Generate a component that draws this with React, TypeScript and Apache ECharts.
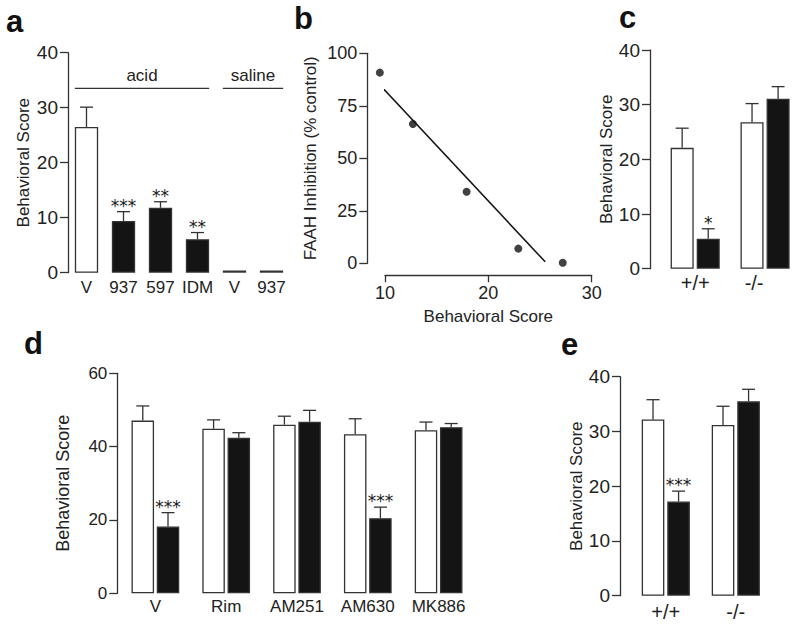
import React, { useEffect, useRef } from "react";
import * as echarts from "echarts";

// ---------- data ----------
// panel a
const aLabels = ["V", "937", "597", "IDM", "V", "937"];
const aMeans = [26.5, 9.4, 11.8, 6.1, 0.4, 0.4];
const aErr = [3.6, 1.7, 1.1, 1.2, 0, 0];
const aStars = ["", "***", "**", "**", "", ""];
const aWhite = [true, false, false, false, false, false];
const aBrackets = [
  { label: "acid", from: 0, to: 3, y: 33.5 },
  { label: "saline", from: 4, to: 5, y: 33.5 },
];
const aTicks = [0, 10, 20, 30, 40];

// panel b
const bScore = [9.5, 12.7, 17.9, 22.9, 27.2];
const bInhib = [90.8, 66.3, 34.1, 7.0, 0.3];
const bFit = [
  [9.5, 84.9],
  [25.5, 0.7],
];

// panel c
const cCats = ["+/+", "-/-"];
const cWhite = [22.1, 26.8];
const cWhiteErr = [3.6, 3.4];
const cBlack = [5.5, 31.1];
const cBlackErr = [1.8, 2.2];
const cBlackStars = ["*", ""];

// panel d
const dCats = ["V", "Rim", "AM251", "AM630", "MK886"];
const dWhite = [47.1, 44.9, 46.0, 43.4, 44.5];
const dWhiteErr = [4.0, 2.4, 2.3, 4.2, 2.2];
const dBlack = [18.2, 42.4, 46.8, 20.5, 45.3];
const dBlackErr = [3.8, 1.4, 3.1, 3.0, 1.0];
const dBlackStars = ["***", "", "", "***", ""];

// panel e
const eCats = ["+/+", "-/-"];
const eWhite = [32.2, 31.2];
const eWhiteErr = [3.6, 3.4];
const eBlack = [17.2, 35.5];
const eBlackErr = [1.9, 2.2];
const eBlackStars = ["***", ""];

const panelLetters = ["a", "b", "c", "d", "e"];

// ---------- style ----------
const FONT = '"Liberation Sans", Arial, Helvetica, sans-serif';
const AX = "#333";
const TXT = "#222";
const BLACK = "#141414";

function yAx(
  gridIndex: number,
  max: number,
  interval: number,
  name: string,
  nameGap: number,
  offset: number,
  labelSize: number,
  nameSize: number
) {
  return {
    type: "value",
    gridIndex,
    min: 0,
    max,
    interval,
    offset,
    name,
    nameLocation: "middle",
    nameGap,
    nameTextStyle: { fontSize: nameSize, color: TXT, fontFamily: FONT },
    axisLine: { show: true, lineStyle: { color: AX, width: 1.3 } },
    axisTick: { show: true, length: 8, lineStyle: { color: AX, width: 1.3 } },
    axisLabel: { fontSize: labelSize, color: TXT, fontFamily: FONT, margin: 10 },
    splitLine: { show: false },
  };
}

function xCat(gridIndex: number, data: string[], margin: number, size: number, extra: any = {}) {
  return {
    type: "category",
    gridIndex,
    data,
    axisLine: { show: false },
    axisTick: { show: false },
    axisLabel: { fontSize: size, color: TXT, fontFamily: FONT, margin, interval: 0, ...extra },
    splitLine: { show: false },
  };
}

function barSeries(idx: number, values: any[], white: boolean, barWidth: string, barGap?: string) {
  const s: any = {
    type: "bar",
    xAxisIndex: idx,
    yAxisIndex: idx,
    data: values,
    barWidth,
    itemStyle: { color: white ? "#fff" : BLACK, borderColor: AX, borderWidth: 1.3 },
    silent: true,
  };
  if (barGap) s.barGap = barGap;
  return s;
}

function errSeries(
  idx: number,
  means: number[],
  errs: number[],
  stars: string[],
  barFrac: number,
  gapFrac: number,
  side: number
) {
  return {
    type: "custom",
    xAxisIndex: idx,
    yAxisIndex: idx,
    z: 5,
    silent: true,
    data: means.map((m, i) => [i, m, errs[i]]),
    encode: { x: 0, y: 1 },
    renderItem: (params: any, api: any) => {
      const i = params.dataIndex;
      const band = api.size([1, 0])[0];
      const bw = band * barFrac;
      const off = side === 0 ? 0 : (side * (bw + bw * gapFrac)) / 2;
      const base = api.coord([api.value(0), api.value(1)]);
      const top = api.coord([api.value(0), api.value(1) + api.value(2)]);
      const x = base[0] + off;
      const children: any[] = [];
      const ls = { stroke: AX, lineWidth: 1.3 };
      if (api.value(2) > 0) {
        children.push({ type: "line", shape: { x1: x, y1: base[1], x2: x, y2: top[1] }, style: ls });
        children.push({ type: "line", shape: { x1: x - 6.5, y1: top[1], x2: x + 6.5, y2: top[1] }, style: ls });
      }
      if (stars[i]) {
        children.push({
          type: "text",
          x,
          y: top[1] - 6,
          style: {
            text: stars[i],
            fontSize: 17,
            fontFamily: '"DejaVu Sans", sans-serif',
            fill: "#1a1a1a",
            align: "center",
            verticalAlign: "middle",
          },
        });
      }
      return { type: "group", children };
    },
  };
}

export default function App() {
  const ref = useRef<HTMLDivElement>(null);
  useEffect(() => {
    if (!ref.current) return;
    const chart = echarts.init(ref.current, undefined, { renderer: "svg" });

    const letterPos = [
      [6, 5.5],
      [294, 2.5],
      [619, 1.5],
      [24, 327.5],
      [561, 328.5],
    ];

    const option: any = {
      animation: false,
      backgroundColor: "#fff",
      textStyle: { fontFamily: FONT },
      grid: [
        { left: 68, top: 52.7, width: 222, height: 220 },
        { left: 385, top: 53.3, width: 206.7, height: 210 },
        { left: 660.25, top: 50, width: 140.5, height: 218.7 },
        { left: 120, top: 373.3, width: 354, height: 220 },
        { left: 630.8, top: 376.7, width: 140, height: 219 },
      ],
      xAxis: [
        {
          ...xCat(0, aLabels.map((_, i) => String(i)), 6, 17),
          axisLabel: {
            fontSize: 17,
            color: TXT,
            fontFamily: FONT,
            margin: 6,
            interval: 0,
            formatter: (v: string) => aLabels[Number(v)],
          },
        },
        {
          type: "value",
          gridIndex: 1,
          min: 10,
          max: 30,
          interval: 10,
          offset: 12,
          name: "Behavioral Score",
          nameLocation: "middle",
          nameGap: 33,
          nameTextStyle: { fontSize: 17, color: TXT, fontFamily: FONT },
          axisLine: { show: true, onZero: false, lineStyle: { color: AX, width: 1.3 } },
          axisTick: { show: true, length: 7, lineStyle: { color: AX, width: 1.3 } },
          axisLabel: { fontSize: 18, color: TXT, fontFamily: FONT, margin: 9 },
          splitLine: { show: false },
        },
        xCat(2, cCats, 4, 20, {
          formatter: (v: string) => (v === "-/-" ? "{s|-/-}" : v),
          rich: { s: { fontSize: 20, color: TXT, fontFamily: FONT, padding: [0, 22, 0, 0] } },
        }),
        xCat(3, dCats, 5, 17),
        xCat(4, eCats, 6, 20),
      ],
      yAxis: [
        yAx(0, aTicks[aTicks.length - 1], 10, "Behavioral Score", 36, 0, 19, 17),
        yAx(1, 100, 25, "FAAH Inhibition (% control)", 48, 17.7, 18, 17),
        yAx(2, 40, 10, "Behavioral Score", 34, 10.25, 19, 17),
        yAx(3, 60, 20, "Behavioral Score", 45, 2.7, 17, 18),
        yAx(4, 40, 10, "Behavioral Score", 35, 10.8, 19, 17),
      ],
      series: [
        // panel a
        barSeries(
          0,
          aMeans.map((v, i) => ({
            value: v,
            itemStyle: { color: aWhite[i] ? "#fff" : BLACK },
          })),
          false,
          "63%"
        ),
        errSeries(0, aMeans, aErr, aStars, 0.63, 0, 0),
        {
          type: "custom",
          xAxisIndex: 0,
          yAxisIndex: 0,
          silent: true,
          data: aBrackets.map((b) => [b.from, b.to, b.y]),
          encode: { x: [0, 1], y: 2 },
          renderItem: (params: any, api: any) => {
            const b = aBrackets[params.dataIndex];
            const band = api.size([1, 0])[0];
            const hw = (band * 0.63) / 2;
            const p1 = api.coord([api.value(0), api.value(2)]);
            const p2 = api.coord([api.value(1), api.value(2)]);
            const x1 = p1[0] - hw;
            const x2 = p2[0] + hw;
            return {
              type: "group",
              children: [
                { type: "line", shape: { x1, y1: p1[1], x2, y2: p1[1] }, style: { stroke: AX, lineWidth: 1.3 } },
                {
                  type: "text",
                  x: (x1 + x2) / 2,
                  y: p1[1] - 13,
                  style: {
                    text: b.label,
                    fontSize: 17,
                    fontFamily: FONT,
                    fill: TXT,
                    align: "center",
                    verticalAlign: "middle",
                  },
                },
              ],
            };
          },
        },
        // panel b
        {
          type: "scatter",
          xAxisIndex: 1,
          yAxisIndex: 1,
          data: bScore.map((x, i) => [x, bInhib[i]]),
          symbolSize: 8,
          itemStyle: { color: "#111" },
          clip: false,
          silent: true,
        },
        {
          type: "line",
          xAxisIndex: 1,
          yAxisIndex: 1,
          data: bFit,
          showSymbol: false,
          lineStyle: { color: "#111", width: 1.5 },
          clip: false,
          silent: true,
        },
        // panel c
        barSeries(2, cWhite, true, "33%", "13%"),
        barSeries(2, cBlack, false, "33%", "13%"),
        errSeries(2, cWhite, cWhiteErr, ["", ""], 0.33, 0.13, -1),
        errSeries(2, cBlack, cBlackErr, cBlackStars, 0.33, 0.13, 1),
        // panel d
        barSeries(3, dWhite, true, "31.8%", "12%"),
        barSeries(3, dBlack, false, "31.8%", "12%"),
        errSeries(3, dWhite, dWhiteErr, ["", "", "", "", ""], 0.318, 0.12, -1),
        errSeries(3, dBlack, dBlackErr, dBlackStars, 0.318, 0.12, 1),
        // panel e
        barSeries(4, eWhite, true, "32.3%", "13%"),
        barSeries(4, eBlack, false, "32.3%", "13%"),
        errSeries(4, eWhite, eWhiteErr, ["", ""], 0.323, 0.13, -1),
        errSeries(4, eBlack, eBlackErr, eBlackStars, 0.323, 0.13, 1),
      ],
      graphic: panelLetters.map((t, i) => ({
        type: "text",
        x: letterPos[i][0],
        y: letterPos[i][1],
        silent: true,
        style: {
          text: t,
          fontSize: 31,
          fontWeight: "bold",
          fontFamily: FONT,
          fill: "#111",
          align: "left",
          verticalAlign: "top",
        },
      })),
    };

    chart.setOption(option);
    return () => chart.dispose();
  }, []);

  return (
    <div
      ref={ref}
      style={{ position: "fixed", left: 0, top: 0, width: 800, height: 628, background: "#fff" }}
    />
  );
}
